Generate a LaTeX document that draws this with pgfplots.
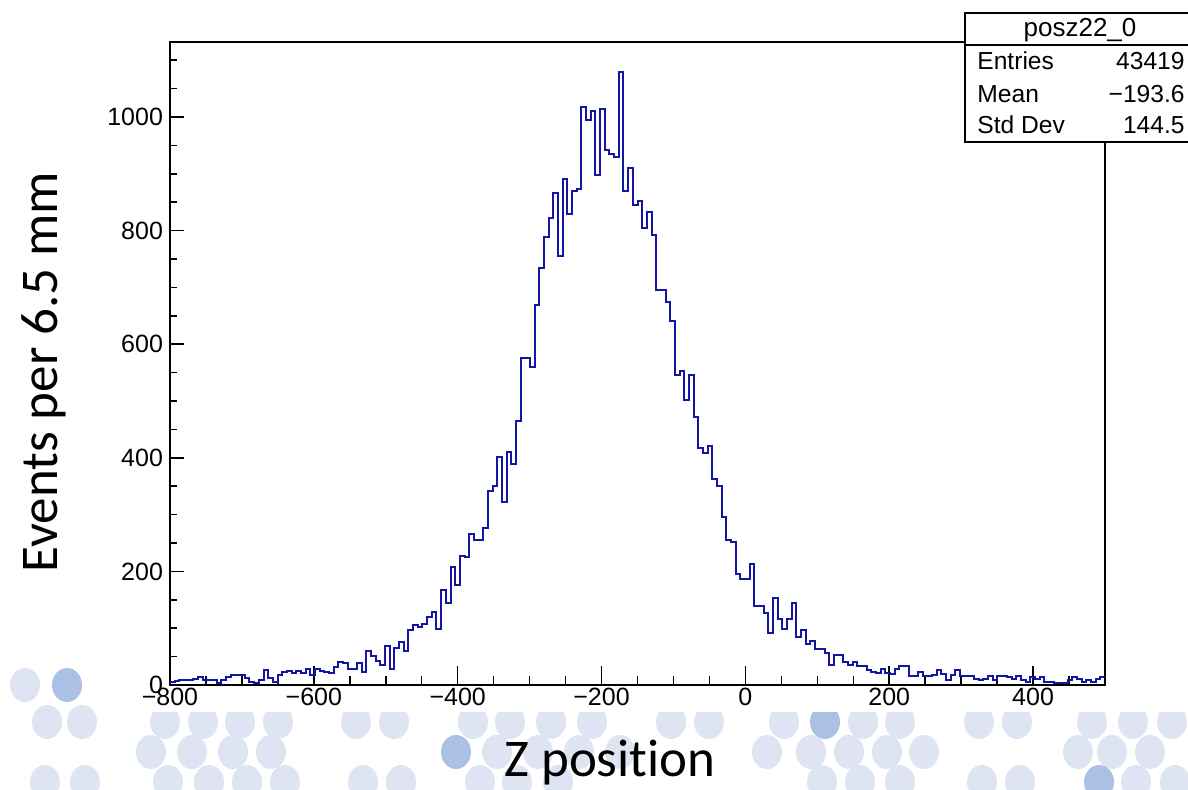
\documentclass[border=0pt]{standalone}
\usepackage{pgfplots}
\pgfplotsset{compat=1.18}
\usepackage{pgfplotstable}
\usepackage{fontspec}
\setmainfont{Liberation Sans}
\newfontfamily\slidefont[Ligatures=NoCommon]{Carlito}
\definecolor{histblue}{RGB}{20,20,165}
\definecolor{dotlight}{RGB}{222,228,242}
\definecolor{dotdark}{RGB}{170,192,228}

% bin left edge (mm) and entries per 6.5 mm bin
\pgfplotstableread{
z count
-800 5
-793.5 7
-787 9
-780.5 9
-774 9
-767.5 10
-761 14
-754.5 9
-748 9
-741.5 9
-735 3
-728.5 9
-722 14
-715.5 18
-709 18
-702.5 17
-696 13
-689.5 6
-683 3
-676.5 8
-670 26
-663.5 12
-657 6
-650.5 18
-644 23
-637.5 25
-631 21
-624.5 25
-618 21
-611.5 29
-605 18
-598.5 29
-592 25
-585.5 23
-579 22
-572.5 32
-566 41
-559.5 38
-553 29
-546.5 29
-540 38
-533.5 23
-527 59
-520.5 51
-514 43
-507.5 35
-501 69
-494.5 29
-488 66
-481.5 75
-475 59
-468.5 96
-462 106
-455.5 102
-449 107
-442.5 119
-436 129
-429.5 98
-423 167
-416.5 144
-410 207
-403.5 176
-397 227
-390.5 226
-384 266
-377.5 255
-371 255
-364.5 276
-358 342
-351.5 351
-345 402
-338.5 323
-332 410
-325.5 389
-319 465
-312.5 576
-306 576
-299.5 560
-293 669
-286.5 735
-280 788
-273.5 822
-267 867
-260.5 755
-254 891
-247.5 830
-241 870
-234.5 873
-228 1017
-221.5 995
-215 1011
-208.5 897
-202 1014
-195.5 942
-189 934
-182.5 930
-176 1080
-169.5 870
-163 911
-156.5 845
-150 852
-143.5 804
-137 833
-130.5 792
-124 695
-117.5 695
-111 675
-104.5 641
-98 545
-91.5 552
-85 502
-78.5 545
-72 471
-65.5 418
-59 408
-52.5 421
-46 363
-39.5 351
-33 296
-26.5 255
-20 252
-13.5 195
-7 186
-0.5 186
6 213
12.5 139
19 139
25.5 126
32 91
38.5 153
45 117
51.5 98
58 117
64.5 144
71 84
77.5 96
84 72
90.5 77
97 63
103.5 63
110 57
116.5 35
123 53
129.5 53
136 41
142.5 35
149 41
155.5 33
162 33
168.5 26
175 23
181.5 22
188 29
194.5 22
201 20
207.5 29
214 33
220.5 33
227 15
233.5 15
240 23
246.5 15
253 15
259.5 17
266 26
272.5 20
279 8
285.5 18
292 26
298.5 15
305 15
311.5 16
318 10
324.5 8
331 10
337.5 15
344 9
350.5 16
357 15
363.5 14
370 10
376.5 15
383 8
389.5 6
396 14
402.5 10
409 14
415.5 6
422 6
428.5 4
435 3
441.5 4
448 9
454.5 14
461 10
467.5 6
474 9
480.5 6
487 10
493.5 14
500 14
}\poszhist

\begin{document}
\begin{tikzpicture}[x=0.5pt,y=0.5pt]
\useasboundingbox (0,0) rectangle (1188,789);

% dotted slide background
\foreach \px/\py/\c in {
  25/685/dotlight, 67/685/dotdark,
  47/722/dotlight, 82/722/dotlight, 165/722/dotlight, 203/722/dotlight,
  240/722/dotlight, 278/722/dotlight, 356/722/dotlight, 394/722/dotlight,
  473/722/dotlight, 510/722/dotlight, 551/722/dotlight, 592/722/dotlight,
  671/722/dotlight, 709/722/dotlight, 784/722/dotlight, 825/722/dotdark,
  863/722/dotlight, 900/722/dotlight, 979/722/dotlight, 1017/722/dotlight,
  1092/722/dotlight, 1133/722/dotlight, 1172/722/dotlight,
  151/752/dotlight, 192/752/dotlight, 233/752/dotlight, 271/752/dotlight,
  456/752/dotdark, 497/752/dotlight, 538/752/dotlight, 579/752/dotlight,
  620/752/dotlight, 767/752/dotlight, 811/752/dotlight, 849/752/dotlight,
  887/752/dotlight, 924/752/dotlight, 1078/752/dotlight, 1112/752/dotlight,
  1150/752/dotlight,
  45/782/dotlight, 85/782/dotlight, 168/782/dotlight, 209/782/dotlight,
  247/782/dotlight, 285/782/dotlight, 363/782/dotlight, 401/782/dotlight,
  480/782/dotlight, 517/782/dotlight, 558/782/dotlight, 822/782/dotlight,
  860/782/dotlight, 900/782/dotlight, 982/782/dotlight, 1020/782/dotlight,
  1099/782/dotdark, 1136/782/dotlight, 1175/782/dotlight}
  {\fill[\c] (\px,{789-\py}) ellipse [x radius=7.5pt, y radius=8.5pt];}

% white canvas of the histogram
\fill[white] (95,77) rectangle (1188,789);

\begin{axis}[
  at={(85pt,52pt)}, anchor=south west,
  scale only axis, width=467.5pt, height=321.5pt,
  xmin=-800, xmax=500, ymin=0, ymax=1132,
  axis line style={line width=0.9pt},
  tick align=inside, xtick pos=bottom, ytick pos=left,
  xtick={-800,-600,-400,-200,0,200,400},
  xticklabels={−800,−600,−400,−200,0,200,400},
  minor xtick={-750,-700,...,450},
  ytick={0,200,400,600,800,1000},
  yticklabels={0,200,400,600,800,1000},
  minor ytick={50,100,...,1100},
  x tick style={line width=0.75pt, black, /pgfplots/major tick length=9.5pt, /pgfplots/minor tick length=4.5pt},
  y tick style={line width=0.75pt, black, /pgfplots/major tick length=7pt, /pgfplots/minor tick length=3.5pt},
  tick label style={font=\fontsize{12.5}{14}\selectfont},
  xticklabel style={inner sep=1.5pt},
  /pgf/number format/assume math mode=true,
]
\addplot[const plot mark left, draw=histblue, line width=1pt] table[x=z, y=count] {\poszhist};
\end{axis}

% statistics box
\draw[line width=0.75pt, fill=white] (965,776) rectangle (1196,647);
\draw[line width=0.75pt] (965,744) -- (1196,744);
\node[anchor=base, inner sep=0pt, font=\fontsize{13}{15}\selectfont] at (1080,752) {posz22\_0};
\begin{scope}[every node/.style={inner sep=0pt, font=\fontsize{12.3}{14}\selectfont}]
\node[anchor=base west] at (977,719) {Entries};
\node[anchor=base east] at (1185,719) {43419};
\node[anchor=base west] at (977,686) {Mean};
\node[anchor=base east] at (1185,686) {−193.6};
\node[anchor=base west] at (977,655) {Std Dev};
\node[anchor=base east] at (1185,655) {144.5};
\end{scope}

% axis titles
\node[rotate=90, inner sep=0pt, font=\slidefont\fontsize{26.5}{30}\selectfont] at (44,417) {Events per 6.5 mm};
\node[anchor=base, inner sep=0pt, font=\slidefont\fontsize{26.5}{30}\selectfont] at (610,13) {Z position};
\end{tikzpicture}
\end{document}
